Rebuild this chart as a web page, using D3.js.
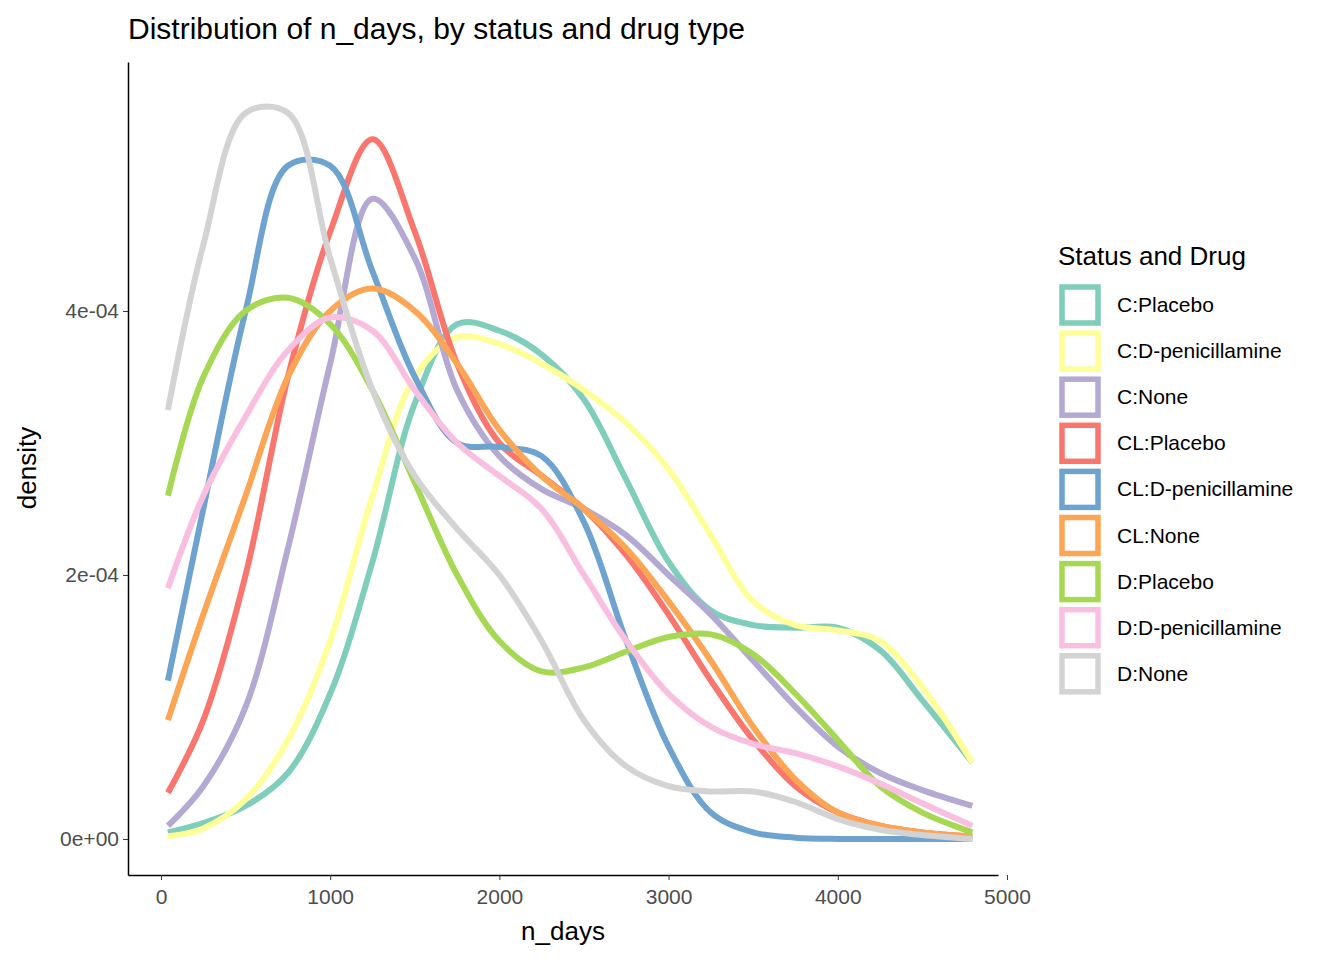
<!DOCTYPE html>
<html><head><meta charset="utf-8">
<script src="https://cdn.jsdelivr.net/npm/d3@7"></script>
<style>body{margin:0;background:#fff;font-family:"Liberation Sans",Arial,sans-serif}</style>
</head><body><svg id="chart" width="1344" height="960"></svg>
<script>
const xs = [41, 250, 500, 750, 1000, 1250, 1500, 1750, 2000, 2250, 2500, 2750, 3000, 3250, 3500, 3750, 4000, 4250, 4500, 4795]
const groups = ["C:Placebo", "C:D-penicillamine", "C:None", "CL:Placebo", "CL:D-penicillamine", "CL:None", "D:Placebo", "D:D-penicillamine", "D:None"]
const colors = ["#7fcdbb", "#ffff99", "#b3a9d3", "#f8766d", "#6fa3cf", "#fba555", "#a6d854", "#f8bfe0", "#d3d3d3"]
// density values in units of 1e-4
const cPlacebo = [0.05, 0.12, 0.25, 0.5, 1.1, 2.1, 3.3, 3.9, 3.85, 3.67, 3.33, 2.72, 2.1, 1.73, 1.62, 1.6, 1.6, 1.43, 1.05, 0.58]
const cDpen = [0.02, 0.08, 0.3, 0.75, 1.5, 2.6, 3.5, 3.8, 3.75, 3.6, 3.4, 3.15, 2.8, 2.3, 1.8, 1.62, 1.58, 1.5, 1.15, 0.58]
const cNone = [0.1, 0.4, 1.0, 2.2, 3.6, 4.85, 4.4, 3.4, 2.9, 2.65, 2.5, 2.3, 2.0, 1.7, 1.35, 1.0, 0.7, 0.5, 0.37, 0.25]
const clPlacebo = [0.35, 0.9, 2.0, 3.5, 4.6, 5.3, 4.6, 3.6, 3.0, 2.75, 2.5, 2.15, 1.7, 1.2, 0.75, 0.4, 0.2, 0.1, 0.05, 0.02]
const clDpen = [1.2, 2.5, 4.0, 5.1, 5.1, 4.3, 3.5, 3.0, 2.97, 2.9, 2.4, 1.5, 0.7, 0.2, 0.05, 0.01, 0, 0, 0, 0]
const clNone = [0.9, 1.7, 2.6, 3.5, 4.0, 4.17, 4.0, 3.6, 3.1, 2.75, 2.5, 2.2, 1.8, 1.35, 0.85, 0.45, 0.2, 0.1, 0.05, 0.02]
const dPlacebo = [2.6, 3.5, 4.0, 4.1, 3.9, 3.4, 2.7, 2.0, 1.5, 1.27, 1.3, 1.42, 1.53, 1.55, 1.4, 1.1, 0.75, 0.4, 0.2, 0.05]
const dDpen = [1.9, 2.6, 3.2, 3.7, 3.95, 3.85, 3.4, 3.0, 2.75, 2.5, 2.0, 1.5, 1.1, 0.85, 0.72, 0.65, 0.55, 0.42, 0.27, 0.1]
const dNone = [3.25, 4.5, 5.5, 5.5, 4.4, 3.4, 2.75, 2.35, 2.0, 1.5, 0.9, 0.55, 0.4, 0.36, 0.36, 0.28, 0.15, 0.07, 0.03, 0]
const series = [cPlacebo, cDpen, cNone, clPlacebo, clDpen, clNone, dPlacebo, dDpen, dNone]
const xTicks = [0, 1000, 2000, 3000, 4000, 5000]
const yTicks = [0, 2e-4, 4e-4]

const svg = d3.select("#chart")
const x = d3.scaleLinear().domain([-195, 4947]).range([128, 998])
const y = d3.scaleLinear().domain([-0.273e-4, 5.886e-4]).range([875, 62])

svg.append("text").attr("x", 128).attr("y", 39).style("font-size", "30px").text("Distribution of n_days, by status and drug type")

const line = d3.line().x(d => x(d[0])).y(d => y(d[1] * 1e-4)).curve(d3.curveCatmullRom)
series.forEach((s, i) => {
  svg.append("path").attr("d", line(xs.map((v, j) => [v, s[j]])))
    .attr("fill", "none").attr("stroke", colors[i]).attr("stroke-width", 6)
})

const xa = svg.append("g").attr("transform", "translate(0,875)")
  .call(d3.axisBottom(x).tickValues(xTicks).tickSize(5).tickSizeOuter(0).tickFormat(d3.format("d")))
const ya = svg.append("g").attr("transform", "translate(128,0)")
  .call(d3.axisLeft(y).tickValues(yTicks).tickSize(5).tickSizeOuter(0)
    .tickFormat(d => d === 0 ? "0e+00" : (d * 1e4) + "e-04"))
;[xa, ya].forEach(a => {
  a.select(".domain").attr("stroke", "#000").attr("stroke-width", 1.5)
  a.selectAll(".tick line").attr("stroke", "#333")
  a.selectAll(".tick text").style("font-size", "21px").attr("fill", "#4d4d4d").style("font-family", "Liberation Sans")
})
xa.selectAll(".tick text").attr("dy", "1.0em")
ya.selectAll(".tick text").attr("x", -9)

svg.append("text").attr("x", 563).attr("y", 940).attr("text-anchor", "middle").style("font-size", "26px").text("n_days")
svg.append("text").attr("transform", "translate(36,468) rotate(-90)").attr("text-anchor", "middle").style("font-size", "26px").text("density")

const lg = svg.append("g").attr("transform", "translate(1058,0)")
lg.append("text").attr("x", 0).attr("y", 265).style("font-size", "26px").text("Status and Drug")
groups.forEach((g, i) => {
  const yy = 287 + i * 46.1
  lg.append("rect").attr("x", 4).attr("y", yy).attr("width", 36).attr("height", 36)
    .attr("fill", "#fff").attr("stroke", colors[i]).attr("stroke-width", 5.5)
  lg.append("text").attr("x", 59).attr("y", yy + 25).style("font-size", "21px").text(g)
})
</script></body></html>
